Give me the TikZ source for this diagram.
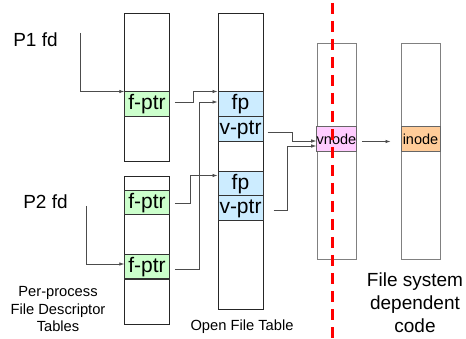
\documentclass[tikz,border=0pt]{standalone}
\usepackage{fontspec}
\setmainfont{Liberation Sans}
\usetikzlibrary{arrows.meta,calc}

\definecolor{fptrgreen}{HTML}{CCFFCC}
\definecolor{fpblue}{HTML}{CCECFF}
\definecolor{vnodepink}{HTML}{FFCCFF}
\definecolor{inodeorange}{HTML}{FFCC99}

\begin{document}
\begin{tikzpicture}[x=1pt,y=-1pt,
  column/.style={rectangle,draw=black!85,line width=0.9pt,inner sep=0pt},
  fscolumn/.style={column,draw=black!50,minimum width=39pt,minimum height=216pt},
  cell/.style={rectangle,draw=black!80,line width=1pt,inner sep=0pt,minimum height=25pt,font=\fontsize{21}{21}\selectfont},
  ptr/.style={draw=black!70,line width=0.7pt,-{Latex[length=5pt,width=3.5pt]}}]
\useasboundingbox (0,0) rectangle (466,339);

% Per-process tables
\node (fdtA) at (147,87) [column,minimum width=44.5pt,minimum height=148pt] {};
\node (fdtB) at (147,250) [column,minimum width=44.5pt,minimum height=148pt] {};
\node (fptrA) at (147,104.5) [cell,fill=fptrgreen,minimum width=44.5pt] {f-ptr};
\node (fptrBa) at (147,203) [cell,fill=fptrgreen,minimum width=44.5pt,minimum height=24pt] {f-ptr};
\node (fptrBb) at (147,267) [cell,fill=fptrgreen,minimum width=44.5pt,minimum height=24pt] {f-ptr};

% Open file table
\node (oft) at (240.5,161) [column,minimum width=45pt,minimum height=296pt] {};
\node (fpA) at (240.5,104.5) [cell,fill=fpblue,minimum width=45pt] {fp};
\node (vptrA) at (240.5,129.5) [cell,fill=fpblue,minimum width=45pt] {v-ptr};
\node (fpB) at (240.5,184) [cell,fill=fpblue,minimum width=45pt,minimum height=24pt] {fp};
\node (vptrB) at (240.5,208.5) [cell,fill=fpblue,minimum width=45pt] {v-ptr};

% vnode and inode tables
\node (vtab) at (336.5,151) [fscolumn] {};
\node (itab) at (420.5,151) [fscolumn] {};
\node (vnode) at (336.5,139.5) [cell,draw=black!60,fill=vnodepink,minimum width=39pt,font=\fontsize{14.5}{14.5}\selectfont] {vnode};
\node (inode) at (420.5,139.5) [cell,draw=black!60,fill=inodeorange,minimum width=39pt,font=\fontsize{14.5}{14.5}\selectfont] {inode};

% Labels
\node (pA) at (35.5,40) [font=\fontsize{19}{19}\selectfont] {P1 fd};
\node (pB) at (45.5,202) [font=\fontsize{19}{19}\selectfont] {P2 fd};
\node (fdtlabel) at (58,309.5) [align=center,font=\fontsize{14.7}{17.5}\selectfont] {Per-process\\File Descriptor\\Tables};
\node (oftlabel) at (242,327) [font=\fontsize{14.7}{14.7}\selectfont] {Open File Table};
\node (fslabel) at (415,303) [align=center,font=\fontsize{19}{23}\selectfont] {File system\\dependent\\code};

% Pointers
\coordinate (pAend) at (80,33);
\coordinate (pBend) at (86,206);
\draw[ptr] (pAend) |- (fptrA.north west);
\draw[ptr] (pBend) |- ([yshift=3pt]fptrBb.west);
\draw[ptr] ([xshift=5pt,yshift=2pt]fptrA.east) -- ++(19,0) |- (fpA.north west);
\draw[ptr] ([xshift=5pt,yshift=-2pt]fptrBb.east) -- ++(25,0) |- ([yshift=2.5pt]fpA.west);
\draw[ptr] ([xshift=5pt]fptrBa.east) -- ++(16,0) |- ([yshift=-4pt]fpB.north west);
\draw[ptr] ([xshift=4pt,yshift=-2.5pt]vptrA.east) -- ++(25,0) |- ([yshift=-1.5pt]vnode.west);
\draw[ptr] ([xshift=10pt,yshift=-1.5pt]vptrB.east) -- ++(14,0) |- ([yshift=-6.5pt]vnode.west);
\draw[ptr] ([xshift=5pt,yshift=-2pt]vnode.east) -- ([xshift=-10pt,yshift=-2pt]inode.west);

% Boundary
\draw[red,line width=3pt,dash pattern=on 11pt off 7pt] (332,3) -- (332,339);

\end{tikzpicture}
\end{document}
